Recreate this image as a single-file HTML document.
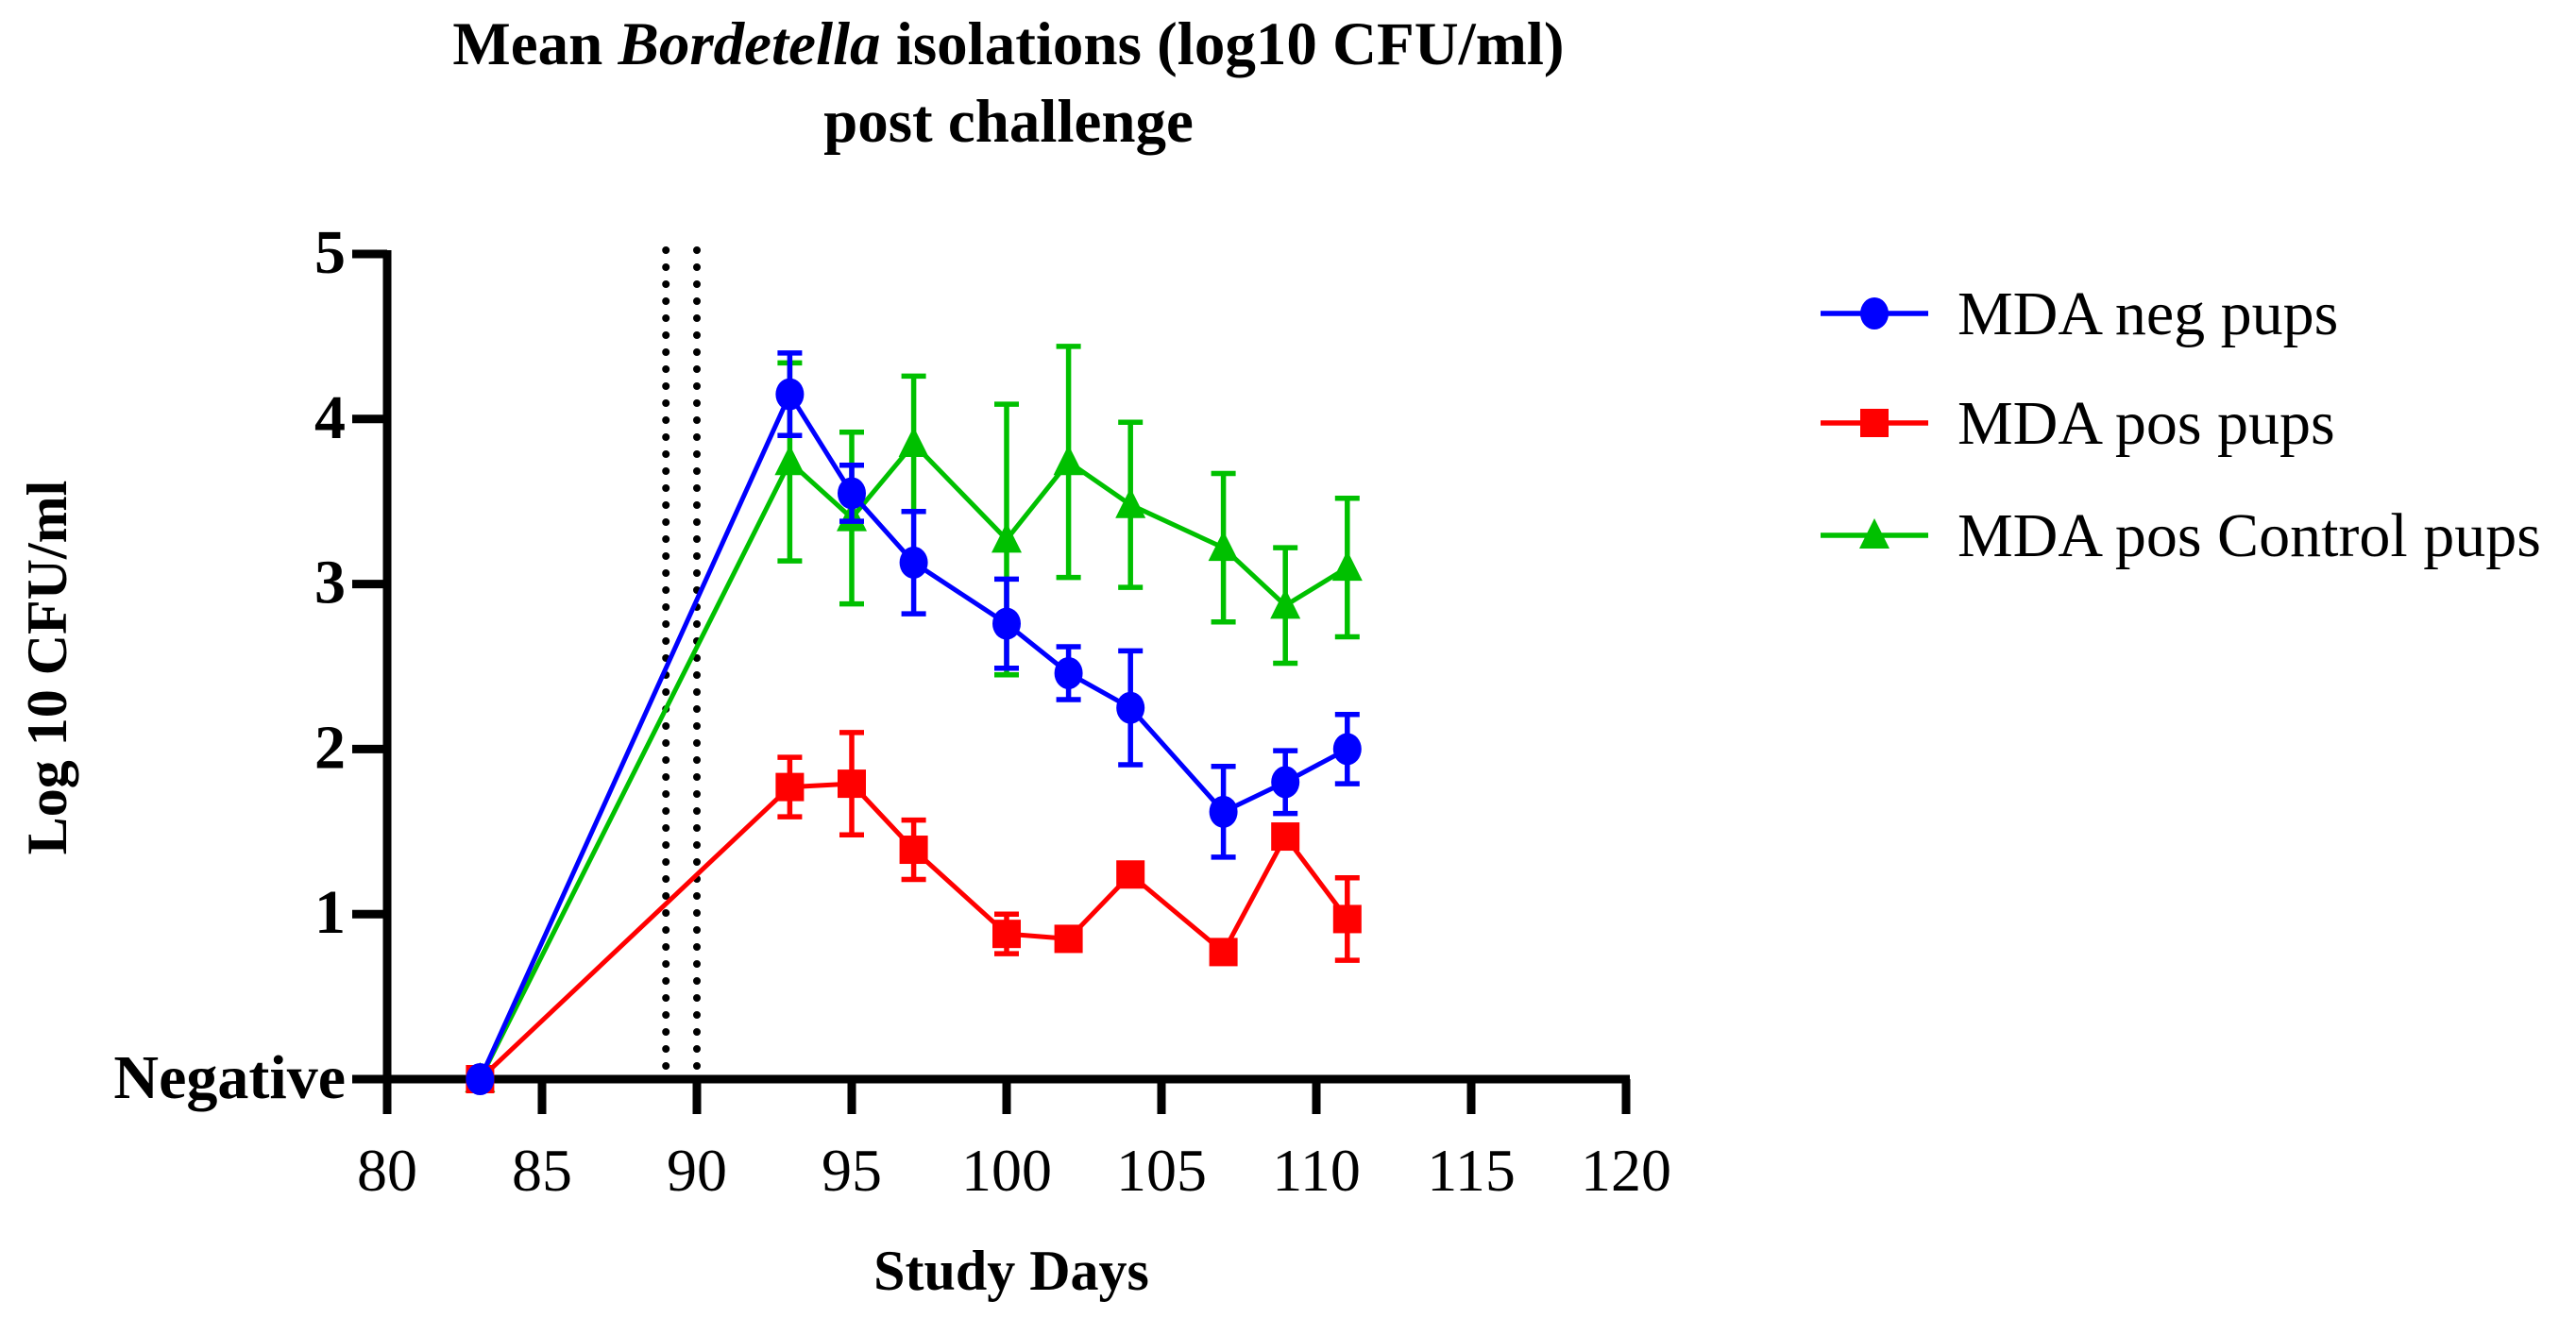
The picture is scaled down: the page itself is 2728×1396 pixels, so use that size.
<!DOCTYPE html>
<html><head><meta charset="utf-8"><style>
html,body{margin:0;padding:0;background:#fff;}
svg{display:block;font-family:"Liberation Serif",serif;}
</style></head><body>
<svg id="chart" width="2728" height="1396" viewBox="0 0 2728 1396" xmlns="http://www.w3.org/2000/svg">
<text x="1068" y="68" text-anchor="middle" font-size="65" font-weight="bold">Mean <tspan font-style="italic">Bordetella</tspan> isolations (log10 CFU/ml)</text>
<text x="1068" y="150" text-anchor="middle" font-size="65" font-weight="bold">post challenge</text>
<text transform="translate(70,707) rotate(-90)" text-anchor="middle" font-size="60" font-weight="bold">Log 10 CFU/ml</text>
<text x="1071" y="1366" text-anchor="middle" font-size="60" font-weight="bold">Study Days</text>
<g id="plot"></g>
<g id="legend"></g>
</svg>
<script>
const days = [83, 93, 95, 97, 100, 102, 104, 107, 109, 111];
const negMean = [0, 4.15, 3.55, 3.13, 2.76, 2.46, 2.25, 1.62, 1.80, 2.00];
const negErr  = [0, 0.25, 0.17, 0.31, 0.27, 0.16, 0.345, 0.275, 0.19, 0.21];
const posMean = [0, 1.77, 1.79, 1.39, 0.88, 0.85, 1.24, 0.77, 1.47, 0.97];
const posErr  = [0, 0.18, 0.31, 0.18, 0.12, 0.04, 0.03, 0.02, 0.05, 0.25];
const ctlMean = [0, 3.74, 3.40, 3.85, 3.27, 3.74, 3.48, 3.22, 2.87, 3.10];
const ctlErr  = [0, 0.60, 0.52, 0.41, 0.82, 0.70, 0.50, 0.45, 0.35, 0.42];
const xTicks = [80, 85, 90, 95, 100, 105, 110, 115, 120];
const yTicks = [0, 1, 2, 3, 4, 5];
const yTickLabels = ["Negative", "1", "2", "3", "4", "5"];
const challengeDays = [89, 90];
const legendLabels = ["MDA neg pups", "MDA pos pups", "MDA pos Control pups"];

const NS = "http://www.w3.org/2000/svg";
const X0 = 410, X1 = 1722, Y0 = 1143, Y1 = 269;
function xs(v){ return X0 + (v - 80) / 40 * (X1 - X0); }
function ys(v){ return Y0 - v / 5 * (Y0 - Y1); }
function mk(tag, attrs, parent){
  const e = document.createElementNS(NS, tag);
  for (const k in attrs) e.setAttribute(k, attrs[k]);
  parent.appendChild(e); return e;
}
const plot = document.getElementById("plot");
const legend = document.getElementById("legend");

challengeDays.forEach(d => {
  const l = mk("line", {x1: xs(d), x2: xs(d), y1: ys(5) - 4, y2: Y0 - 6, stroke: "#000", "stroke-width": 8, "stroke-linecap": "round", "stroke-dasharray": "0 18"}, plot);
  
  
});

const yAxis = mk("line", {x1: X0, x2: X0, y1: Y1 - 4, y2: Y0 + 4, stroke: "#000", "stroke-width": 9}, plot);


const xAxis = mk("line", {x1: X0 - 37, x2: X1 + 4, y1: Y0, y2: Y0, stroke: "#000", "stroke-width": 9}, plot);



xTicks.forEach(t => {
  const tk = mk("line", {x1: xs(t), x2: xs(t), y1: Y0, y2: Y0 + 37, stroke: "#000", "stroke-width": 9}, plot);
  
  
  const tx = mk("text", {x: xs(t), y: Y0 + 118, "text-anchor": "middle", "font-size": 64}, plot);
  tx.textContent = t;
  
  
});
yTicks.forEach((t, i) => {
  const tk = mk("line", {x1: X0 - 37, x2: X0, y1: ys(t), y2: ys(t), stroke: "#000", "stroke-width": 9}, plot);
  
  
  const tx = mk("text", {x: X0 - 44, y: ys(t) + 20, "text-anchor": "end", "font-size": 66, "font-weight": "bold"}, plot);
  tx.textContent = yTickLabels[i];
  
  
});

function marker(shape, cx, cy, color, parent){
  let m;
  if (shape === "circle") m = mk("ellipse", {cx: cx, cy: cy, rx: 15, ry: 17, fill: color}, parent);
  else if (shape === "square") m = mk("rect", {x: cx - 15, y: cy - 15, width: 30, height: 30, fill: color}, parent);
  else m = mk("polygon", {points: `${cx},${cy-18} ${cx-16},${cy+14} ${cx+16},${cy+14}`, fill: color}, parent);
  return m;
}

const series = [
  {name: "ctl", mean: ctlMean, err: ctlErr, color: "#00c000", shape: "triangle"},
  {name: "pos", mean: posMean, err: posErr, color: "#ff0000", shape: "square"},
  {name: "neg", mean: negMean, err: negErr, color: "#0000ff", shape: "circle"}
];
series.forEach(s => {
  const g = mk("g", {}, plot);
  
  
  const pts = days.map((d, i) => xs(d) + "," + ys(s.mean[i])).join(" ");
  const line = mk("polyline", {points: pts, fill: "none", stroke: s.color, "stroke-width": 5, "stroke-linejoin": "round"}, g);
  
  
  days.forEach((d, i) => {
    if (s.err[i] > 0) {
      const x = xs(d), yt = ys(s.mean[i] + s.err[i]), yb = ys(s.mean[i] - s.err[i]);
      const eb = mk("path", {d: `M${x},${yt}V${yb}M${x-13},${yt}H${x+13}M${x-13},${yb}H${x+13}`, stroke: s.color, "stroke-width": 5.5, fill: "none"}, g);
      
      
    }
    const m = marker(s.shape, xs(d), ys(s.mean[i]), s.color, g);
    
    
  });
});

const legColors = ["#0000ff", "#ff0000", "#00c000"];
const legShapes = ["circle", "square", "triangle"];
const legY = [332, 448, 567];
legendLabels.forEach((lab, i) => {
  const g = mk("g", {}, legend);
  
  
  mk("line", {x1: 1928, x2: 2042, y1: legY[i], y2: legY[i], stroke: legColors[i], "stroke-width": 5.5}, g);
  marker(legShapes[i], 1985, legY[i], legColors[i], g);
  const t = mk("text", {x: 2073, y: legY[i] + 22, "font-size": 66}, g);
  t.textContent = lab;
  
  
});
</script>
</body></html>
